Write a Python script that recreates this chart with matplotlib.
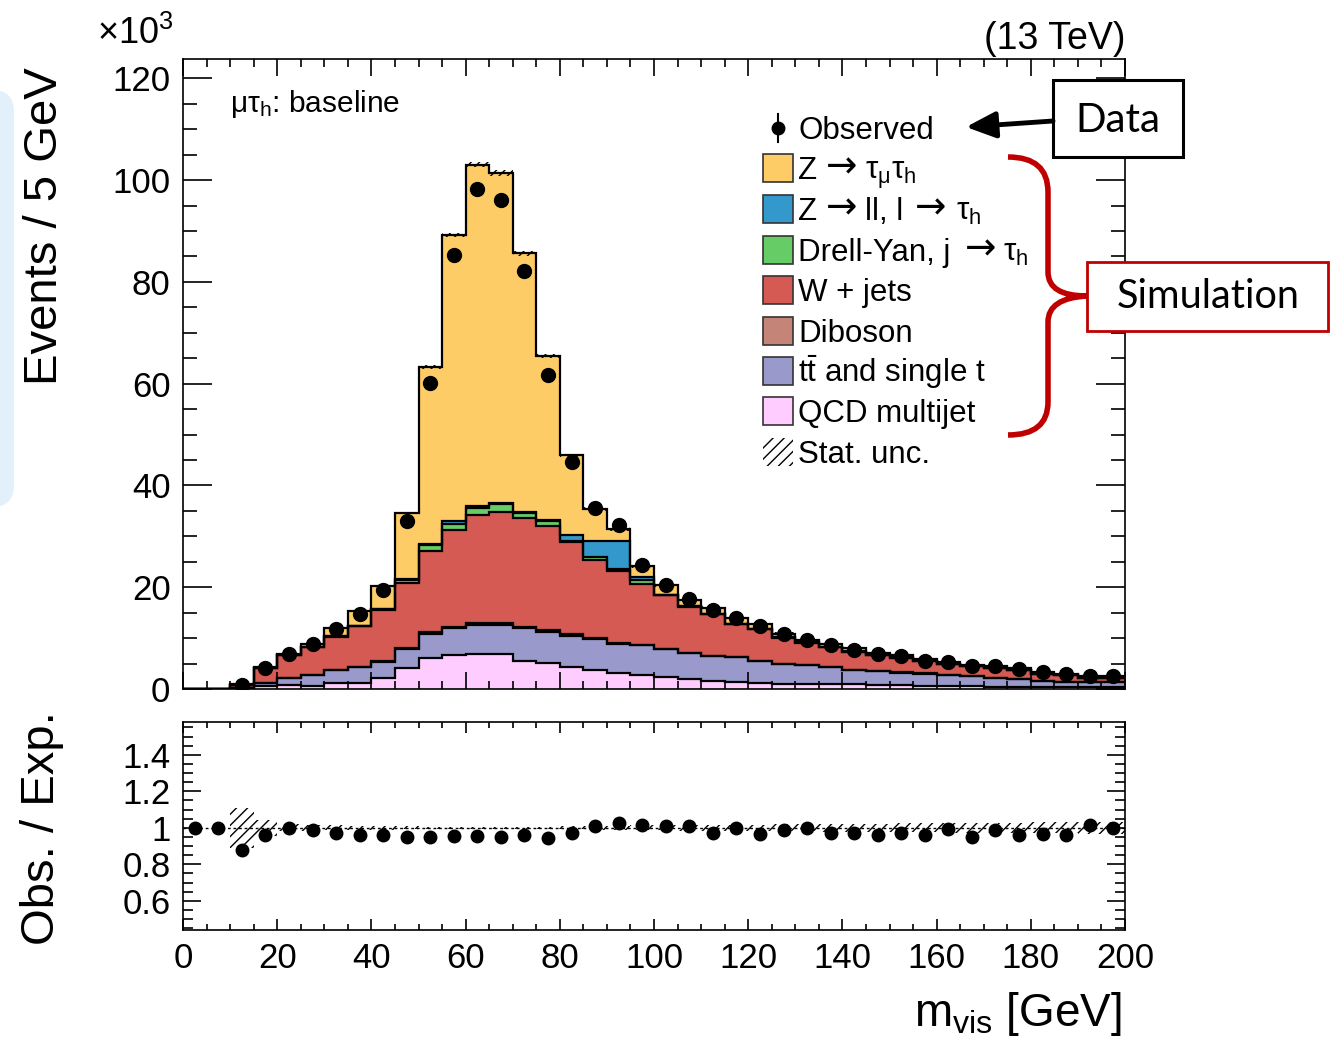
import numpy as np
import matplotlib
matplotlib.use("Agg")
import matplotlib.pyplot as plt
from matplotlib.patches import Rectangle, FancyBboxPatch, PathPatch, FancyArrowPatch
from matplotlib.path import Path
from matplotlib.lines import Line2D
from matplotlib.ticker import MultipleLocator, FixedLocator, FuncFormatter
from matplotlib.transforms import Affine2D

plt.rcParams['font.family'] = ['Liberation Sans', 'DejaVu Sans']
plt.rcParams['mathtext.fontset'] = 'custom'
plt.rcParams['mathtext.rm'] = 'Liberation Sans'
plt.rcParams['mathtext.it'] = 'Liberation Sans:italic'
plt.rcParams['mathtext.default'] = 'regular'
plt.rcParams['hatch.linewidth'] = 1.0

# bins of m_vis, 5 GeV wide
edges = np.arange(0, 205, 5)

# event counts per bin, in units of 10^3
qcd = [0, 0, 0.1, 0.5, 0.7, 0.6, 1.2, 1.2, 2.1, 4.1,
       6.0, 6.6, 6.8, 6.8, 5.6, 5.1, 4.3, 3.7, 3.1, 2.8,
       2.3, 2.0, 1.6, 1.4, 1.2, 1.0, 1.0, 1.0, 0.9, 0.7,
       0.7, 0.5, 0.5, 0.5, 0.4, 0.4, 0.3, 0.3, 0.3, 0.3]
ttbar = [0, 0.01, 0.1, 0.7, 1.5, 2.1, 2.5, 3.1, 3.3, 3.8,
         4.8, 5.3, 5.7, 5.7, 6.3, 6.1, 6.2, 6.1, 5.8, 5.8,
         5.5, 5.0, 4.8, 4.9, 4.3, 3.9, 3.7, 3.3, 2.8, 2.8,
         2.5, 2.5, 2.2, 2.0, 1.8, 1.6, 1.3, 1.1, 1.0, 1.0]
diboson = [0, 0, 0, 0.05, 0.05, 0.05, 0.05, 0.1, 0.1, 0.1,
           0.4, 0.3, 0.5, 0.5, 0.2, 0.4, 0.3, 0.2, 0.1, 0.1,
           0.1, 0.1, 0.05, 0.05, 0.05, 0.05, 0.05, 0.05, 0.05, 0.05,
           0.05, 0.05, 0.05, 0.05, 0.05, 0.05, 0.05, 0.05, 0.03, 0.03]
wjets = [0.02, 0.06, 0.6, 2.85, 4.35, 5.45, 6.55, 7.9, 10.1, 12.9,
         15.9, 19.0, 21.2, 21.8, 21.5, 20.4, 18.1, 15.4, 14.1, 12.0,
         10.5, 9.1, 8.25, 6.35, 6.15, 5.15, 4.35, 3.85, 3.55, 3.05,
         2.85, 2.45, 2.15, 1.95, 1.85, 1.75, 1.35, 1.25, 0.87, 0.87]
dy_jet = [0, 0, 0, 0.05, 0.05, 0.05, 0.05, 0.1, 0.1, 0.6,
          1.2, 1.3, 1.4, 1.5, 1.0, 1.1, 0.2, 0.5, 0.5, 0.8,
          0.1, 0.05, 0.05, 0.05, 0.05, 0.05, 0.05, 0.05, 0.05, 0.05,
          0.05, 0.05, 0.05, 0.02, 0.02, 0.02, 0.02, 0.02, 0.02, 0.02]
z_ll = [0, 0, 0, 0, 0, 0.05, 0.05, 0.05, 0.05, 0.1,
        0.15, 0.5, 0.4, 0.2, 0.1, 0.1, 1.1, 3.2, 5.5, 0.5,
        0.05, 0.05, 0.05, 0.05, 0.05, 0.05, 0.05, 0.05, 0.05, 0.05,
        0.05, 0, 0, 0, 0, 0, 0, 0, 0, 0]
z_tautau = [0, 0.01, 0.1, 0.2, 0.2, 0.6, 1.6, 2.85, 4.45, 13.0,
            34.75, 56.2, 67.0, 64.9, 50.9, 32.3, 15.7, 6.3, 2.3, 2.1,
            1.85, 1.2, 1.2, 1.1, 1.0, 0.7, 0.5, 0.6, 0.6, 0.4,
            0.4, 0.25, 0.35, 0.28, 0.48, 0.28, 0.38, 0.28, 0.28, 0.28]
observed = [0.02, 0.08, 0.8, 4.2, 6.9, 8.8, 11.7, 14.7, 19.4, 33.0,
            60.2, 85.3, 98.3, 96.0, 82.2, 61.7, 44.6, 35.6, 32.2, 24.4,
            20.5, 17.6, 15.6, 13.9, 12.4, 10.75, 9.7, 8.65, 7.75, 6.8,
            6.4, 5.55, 5.27, 4.55, 4.5, 3.95, 3.3, 2.9, 2.55, 2.5]
ratio = [1.0, 1.0, 0.88, 0.96, 1.0, 0.99, 0.97, 0.96, 0.96, 0.95,
         0.95, 0.955, 0.955, 0.947, 0.96, 0.943, 0.97, 1.01, 1.027, 1.014,
         1.01, 1.012, 0.973, 1.0, 0.968, 0.986, 1.0, 0.973, 0.97, 0.96,
         0.97, 0.96, 0.995, 0.95, 0.986, 0.96, 0.968, 0.96, 1.018, 1.0]
# relative statistical uncertainty of the expectation
stat_unc = [0, 0, 0.11, 0.045, 0.02, 0.016, 0.014, 0.012, 0.01, 0.008,
            0.006, 0.005, 0.005, 0.005, 0.005, 0.006, 0.008, 0.01, 0.012, 0.013,
            0.014, 0.015, 0.016, 0.017, 0.018, 0.019, 0.02, 0.021, 0.022, 0.023,
            0.024, 0.025, 0.026, 0.027, 0.028, 0.029, 0.03, 0.031, 0.032, 0.033]

stack = [qcd, ttbar, diboson, wjets, dy_jet, z_ll, z_tautau]
colors = ['#ffccff', '#9999cc', '#c48478', '#d65a54', '#66cc66', '#3399cc', '#fecc66']
# legend labels, split at the arrows (x offset in pixels, text)
labels = [[(0, 'Z'), (28, '→'), (67, 'τ$_{\\mu}$τ$_{h}$')],
          [(0, 'Z'), (28, '→'), (67, 'll, l'), (117, '→'), (158, 'τ$_{h}$')],
          [(0, 'Drell-Yan, j'), (167, '→'), (205, 'τ$_{h}$')],
          [(0, 'W + jets')], [(0, 'Diboson')], [(0, 't$\\bar{t}$ and single t')],
          [(0, 'QCD multijet')]]
leg_colors = ['#fecc66', '#3399cc', '#66cc66', '#d65a54', '#c48478', '#9999cc', '#ffccff']

W, H = 1330, 1041
fig = plt.figure(figsize=(W / 100, H / 100), dpi=100)
# pixel coordinates measured from the top-left corner
pix = Affine2D().scale(0.01, -0.01).translate(0, H / 100) + fig.dpi_scale_trans


def fr(x0, y0, x1, y1):
    return [x0 / W, 1 - y1 / H, (x1 - x0) / W, (y1 - y0) / H]


fig.add_artist(FancyBboxPatch((-40, 90), 54, 417, boxstyle='round,pad=0,rounding_size=22',
                              transform=pix, facecolor='#e1f0fa', edgecolor='none', zorder=0))

ax = fig.add_axes(fr(183, 59, 1125, 689))
rax = fig.add_axes(fr(183, 722, 1125, 930))

centers = 0.5 * (edges[:-1] + edges[1:])
bottom = np.zeros(len(centers))
for vals, col in zip(stack, colors):
    top = bottom + np.array(vals)
    ax.stairs(top, edges, baseline=bottom, fill=True, color=col, lw=0)
    bottom = top
total = bottom
bottom = np.zeros(len(centers))
for vals in stack:
    bottom = bottom + np.array(vals)
    ax.stairs(bottom, edges, baseline=None, color='black', lw=1.6)

err = total * np.array(stat_unc)
ax.bar(centers, 2 * err, bottom=total - err, width=5, fill=False, hatch='////',
       edgecolor='black', lw=0)
ax.plot(centers[2:], np.array(observed)[2:], 'o', color='black', ms=10, zorder=5)

ax.set_xlim(0, 200)
ax.set_ylim(0, 123.8)
ax.xaxis.set_major_locator(MultipleLocator(20))
ax.xaxis.set_minor_locator(MultipleLocator(5))
ax.yaxis.set_major_locator(MultipleLocator(20))
ax.yaxis.set_minor_locator(MultipleLocator(5))
ax.tick_params(which='both', direction='in', top=True, right=True, labelbottom=False,
               labelsize=25, width=1.2, pad=9)
ax.tick_params(axis='y', which='major', length=21)
ax.tick_params(axis='y', which='minor', length=10)
ax.tick_params(axis='x', which='major', length=12)
ax.tick_params(axis='x', which='minor', length=6)
for s in ax.spines.values():
    s.set_linewidth(1.2)

rax.bar(centers[2:], 2 * np.array(stat_unc)[2:], bottom=1 - np.array(stat_unc)[2:], width=5,
        fill=False, hatch='///', edgecolor='black', lw=0)
rax.axhline(1, color='black', ls=(0, (2, 2)), lw=1)
rax.plot(centers, ratio, 'o', color='black', ms=9, zorder=5)
rax.set_xlim(0, 200)
rax.set_ylim(0.44, 1.58)
rax.xaxis.set_major_locator(MultipleLocator(20))
rax.xaxis.set_minor_locator(MultipleLocator(5))
rax.yaxis.set_major_locator(FixedLocator([0.6, 0.8, 1.0, 1.2, 1.4]))
rax.yaxis.set_minor_locator(MultipleLocator(0.05))
rax.yaxis.set_major_formatter(FuncFormatter(lambda v, p: '%g' % round(v, 2)))
rax.tick_params(which='both', direction='in', top=True, right=True, labelsize=25, width=1.2, pad=9)
rax.tick_params(axis='y', which='major', length=13)
rax.tick_params(axis='y', which='minor', length=7)
rax.tick_params(axis='x', which='major', length=8)
rax.tick_params(axis='x', which='minor', length=4)
for s in rax.spines.values():
    s.set_linewidth(1.2)

# axis titles and labels
fig.text(45, 67, 'Events / 5 GeV', transform=pix, rotation=90, ha='center', va='top', fontsize=34)
fig.text(42, 828, 'Obs. / Exp.', transform=pix, rotation=90, ha='center', va='center', fontsize=34)
fig.text(1122, 1026, 'm$_{vis}$ [GeV]', transform=pix, ha='right', va='baseline', fontsize=33)
fig.text(1125, 49, '(13 TeV)', transform=pix, ha='right', va='baseline', fontsize=27)
fig.text(97, 44, '×10$^{3}$', transform=pix, ha='left', va='baseline', fontsize=26)
fig.text(230, 112, 'μτ$_{h}$: baseline', transform=pix, ha='left', va='baseline', fontsize=21.5)

# legend
rows = [128, 168, 209, 250, 290, 331, 371, 411, 452]
fs_leg = 22.5
fig.add_artist(Line2D([778, 778], [rows[0] - 14, rows[0] + 14], transform=pix, color='black', lw=1.5))
fig.add_artist(Line2D([778], [rows[0]], transform=pix, marker='o', color='black', ms=9))
fig.text(798, rows[0] + 11, 'Observed', transform=pix, ha='left', va='baseline', fontsize=fs_leg)
for y, parts, col in zip(rows[1:8], labels, leg_colors):
    fig.add_artist(Rectangle((763, y - 14), 30, 28, transform=pix, facecolor=col,
                             edgecolor='#333333', lw=1.2))
    for dx, txt in parts:
        if txt == '→':
            fig.text(798 + dx, y + 9, txt, transform=pix, ha='left', va='baseline',
                     fontsize=27, family=['DejaVu Sans'])
        else:
            fig.text(798 + dx, y + 11, txt, transform=pix, ha='left', va='baseline',
                     fontsize=fs_leg)
fig.add_artist(Rectangle((763, rows[8] - 14), 30, 28, transform=pix, fill=False, hatch='///',
                         edgecolor='black', lw=0))
fig.text(798, rows[8] + 11, 'Stat. unc.', transform=pix, ha='left', va='baseline', fontsize=fs_leg)

# annotations
fig.add_artist(Rectangle((1053, 80), 130, 77, transform=pix, facecolor='white',
                         edgecolor='black', lw=2.2, zorder=4))
fig.text(1118, 120, 'Data', transform=pix, ha='center', va='center', fontsize=29,
         family='Lato', zorder=5)
fig.add_artist(FancyArrowPatch((1053, 121), (966, 127), transform=pix, color='black', lw=3.5,
                               arrowstyle='-|>,head_length=0.9,head_width=0.4',
                               mutation_scale=20, shrinkA=0, shrinkB=0, zorder=4))
fig.add_artist(Rectangle((1087, 262), 241, 69, transform=pix, facecolor='white',
                         edgecolor='#c00000', lw=2, zorder=4))
fig.text(1208, 297, 'Simulation', transform=pix, ha='center', va='center', fontsize=28.5,
         family='Lato', zorder=5)
brace = Path([(1008, 157), (1048, 157), (1048, 192), (1048, 272), (1048, 296), (1087, 296),
              (1048, 298), (1048, 322), (1048, 402), (1048, 435), (1008, 435)],
             [Path.MOVETO, Path.CURVE3, Path.CURVE3, Path.LINETO, Path.CURVE3, Path.CURVE3,
              Path.CURVE3, Path.CURVE3, Path.LINETO, Path.CURVE3, Path.CURVE3])
fig.add_artist(PathPatch(brace, transform=pix, fill=False, edgecolor='#c00000', lw=4, zorder=4))

fig.savefig('out.png', dpi=100)
